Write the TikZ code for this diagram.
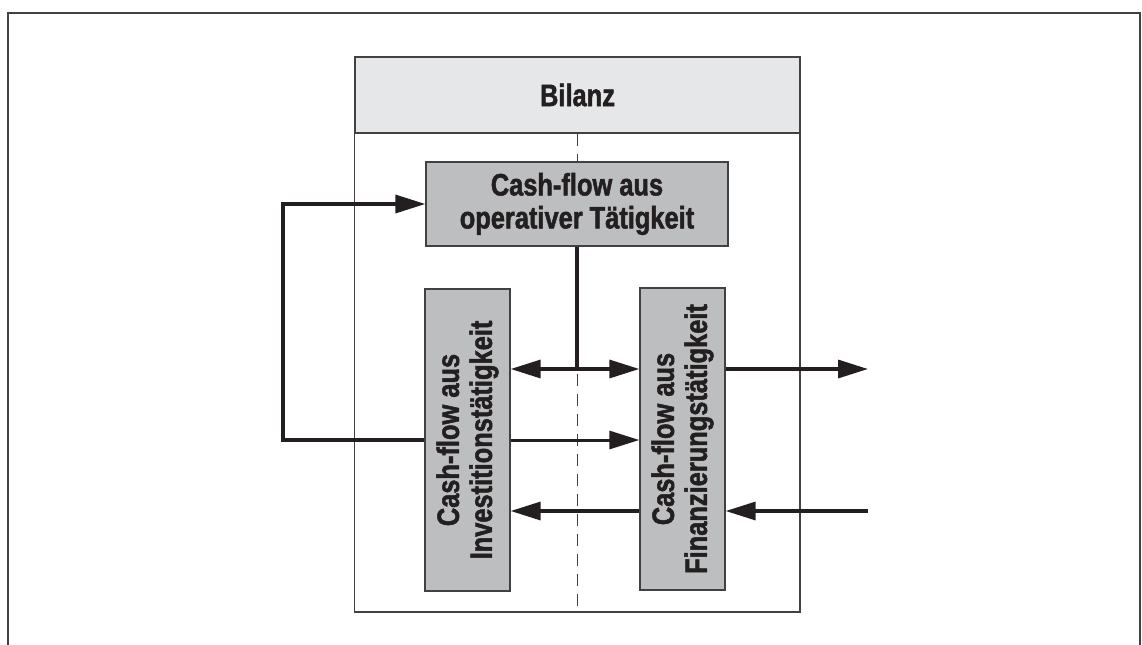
\documentclass[tikz,border=0pt]{standalone}
\usepackage{fontspec}
\setmainfont{Liberation Sans}[FakeStretch=0.82, BoldFeatures={FakeBold=1.6}]
\usetikzlibrary{arrows.meta}
\definecolor{boxgray}{HTML}{BCBEC0}
\definecolor{headgray}{HTML}{E6E7E8}
\definecolor{inkgray}{HTML}{231F20}
\definecolor{linegray}{HTML}{414042}

\begin{document}
\begin{tikzpicture}[x=0.5pt, y=-0.5pt,
  >={Triangle[length=15pt, width=9pt]},
  cf/.style={draw=linegray, line width=0.65pt, fill=boxgray, text=inkgray, inner sep=0pt,
    align=center, font=\fontsize{15.5}{16.5}\selectfont\bfseries},
  flow/.style={draw=inkgray, line width=1.65pt}]
\useasboundingbox (0,0) rectangle (1142,644);
\draw[linegray, line width=1.1pt] (8,660) -- (8,13) -- (1140,13) -- (1140,660);

% Bilanz
\node[cf, fill=headgray, minimum width=222.5pt, minimum height=38pt] (B0) at (577.5,95) {Bilanz};
\coordinate (B1) at (800,612);
\draw[linegray, line width=0.65pt] (B0.south west) rectangle (B1);
\draw[linegray, line width=0.6pt, dash pattern=on 6pt off 4pt] (B0.south) -- (B0.south |- B1);

\node[cf, minimum width=151pt, minimum height=42pt] (C1) at (577,204) {Cash-flow aus\\operativer Tätigkeit};
\node[cf, rotate=90, minimum width=151pt, minimum height=42.5pt] (C2) at (467.5,440) {Cash-flow aus\\Investitionstätigkeit};
\node[cf, rotate=90, minimum width=151pt, minimum height=42.5pt] (C3) at (682.5,439) {Cash-flow aus\\Finanzierungstätigkeit};

\coordinate (L1) at (0,369);
\coordinate (L2) at (0,440);
\coordinate (L3) at (0,511);
\coordinate (F1) at (283,0);
\coordinate (R1) at (868,369);
\coordinate (R2) at (868,511);

\draw[flow, <->] (C2.south |- L1) -- (C3.north |- L1);
\draw[flow] (C1.south) -- (C1.south |- L1);
\draw[flow, ->, line width=1.5pt] (C2.south |- L2) -- (C3.north |- L2);
\draw[flow, ->] (C2.north |- L2) -- (F1 |- L2) -- (F1 |- C1.west) -- (C1.west);
\draw[flow, ->] (C3.north |- L3) -- (C2.south |- L3);
\draw[flow, ->] (C3.south |- L1) -- (R1);
\draw[flow, ->] (R2) -- (C3.south |- L3);
\end{tikzpicture}
\end{document}
